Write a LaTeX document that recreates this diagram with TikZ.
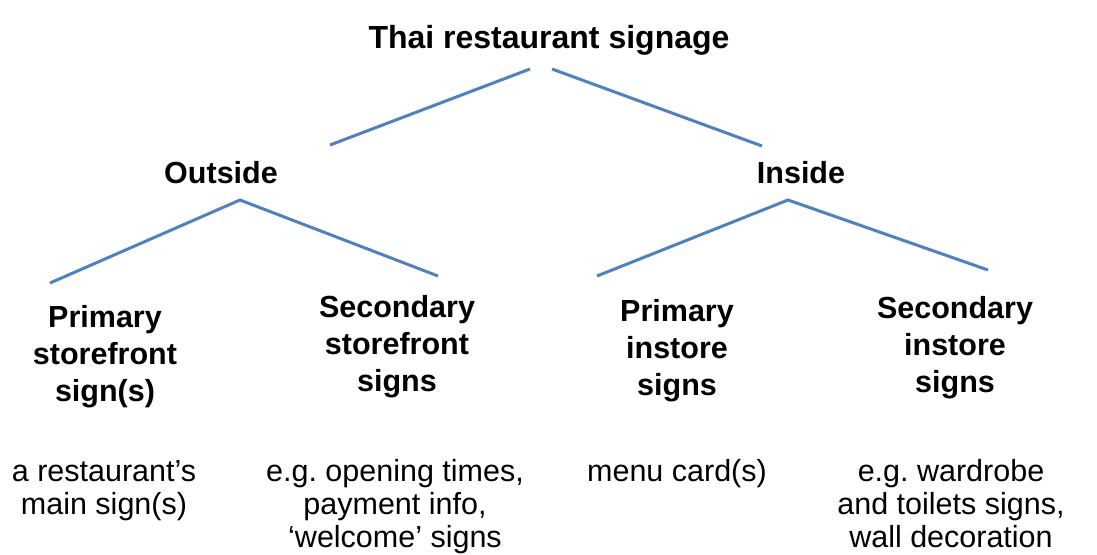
\documentclass[tikz,border=0pt]{standalone}
\usepackage{fontspec}
\setmainfont{Liberation Sans}
\frenchspacing
\definecolor{linkblue}{RGB}{79,129,189}
\begin{document}
\begin{tikzpicture}[x=1pt,y=-1pt,
  head/.style={font=\fontsize{30.5}{37}\selectfont\bfseries, align=center, anchor=base, inner sep=0pt},
  title/.style={font=\fontsize{32}{37.5}\selectfont\bfseries, anchor=base, inner sep=0pt},
  desc/.style={font=\fontsize{30.5}{33}\selectfont, align=center, anchor=base, inner sep=0pt},
  link/.style={draw=linkblue, line width=3pt}]
\useasboundingbox (0,0) rectangle (1097,554);
% texts (anchor = baseline of the last line)
\node[title] (root) at (549,48) {Thai restaurant signage};
\node[head] (out) at (221,183) {Outside};
\node[head] (in) at (801,183) {Inside};
\node[head] (ps) at (105,401) {Primary\\storefront\\sign(s)};
\node[head] (ss) at (397,391) {Secondary\\storefront\\signs};
\node[head] (pi) at (677,395) {Primary\\instore\\signs};
\node[head] (si) at (955,392) {Secondary\\instore\\signs};
\node[desc] (dps) at (104,514) {a restaurant’s\\main sign(s)};
\node[desc] (dss) at (395,547) {e.g. opening times,\\payment info,\\‘welcome’ signs};
\node[desc] (dpi) at (677,481) {menu card(s)};
\node[desc] (dsi) at (951,547) {e.g. wardrobe\\and toilets signs,\\wall decoration};
% connector end points
\coordinate (rootL) at (530,69);
\coordinate (rootR) at (552,69);
\coordinate (outTop) at (330,145);
\coordinate (inTop) at (762,146);
\coordinate (outApex) at (240,200);
\coordinate (inApex) at (788,200);
\coordinate (psTop) at (50,283);
\coordinate (ssTop) at (438,276);
\coordinate (piTop) at (597,276);
\coordinate (siTop) at (988,270);
% connectors
\draw[link] (rootL) -- (outTop);
\draw[link] (rootR) -- (inTop);
\draw[link] (psTop) -- (outApex) -- (ssTop);
\draw[link] (piTop) -- (inApex) -- (siTop);
\end{tikzpicture}
\end{document}
